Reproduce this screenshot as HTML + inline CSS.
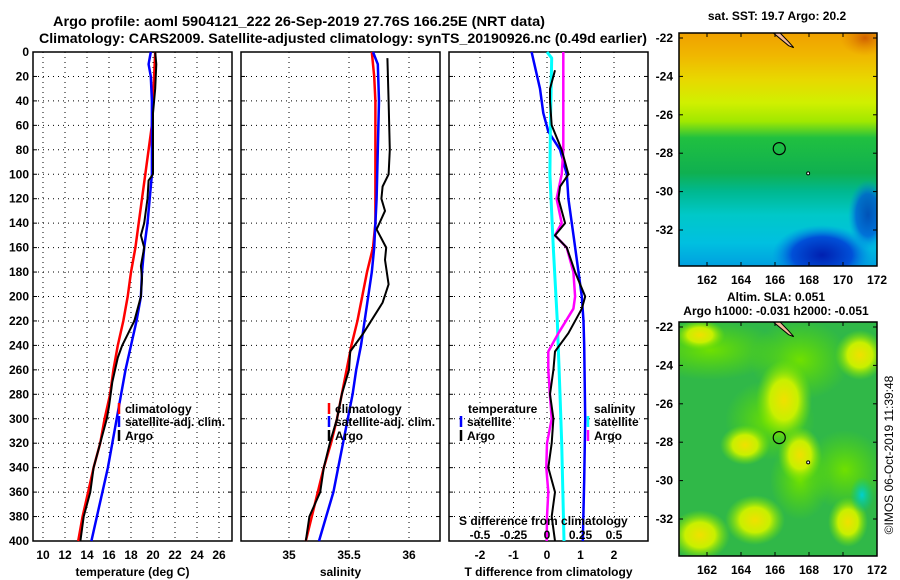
<!DOCTYPE html>
<html><head><meta charset="utf-8"><style>
html,body{margin:0;padding:0;background:#fff;}
svg{display:block;font-family:"Liberation Sans",sans-serif;font-weight:bold;}
</style></head><body>
<svg id="c" width="900" height="580" xmlns="http://www.w3.org/2000/svg">
<text x="53" y="26" font-size="14" textLength="492" lengthAdjust="spacingAndGlyphs">Argo profile: aoml 5904121_222 26-Sep-2019 27.76S 166.25E (NRT data)</text>
<text x="39" y="43" font-size="14" textLength="608" lengthAdjust="spacingAndGlyphs">Climatology: CARS2009. Satellite-adjusted climatology: synTS_20190926.nc (0.49d earlier)</text>
<g id="maps"></g>
<g id="panels"></g>
<text transform="translate(893,455) rotate(-90)" font-size="12" font-weight="normal" text-anchor="middle">©IMOS 06-Oct-2019 11:39:48</text>
</svg>
<script>
// ---- data ----
const depthTicks=[0,20,40,60,80,100,120,140,160,180,200,220,240,260,280,300,320,340,360,380,400];
const tTicks=[10,12,14,16,18,20,22,24,26];
const sTicks=[35,35.5,36];
const sTickLabels=["35","35.5","36"];
const dTicks=[-2,-1,0,1,2];
const dsTicks=[-0.5,-0.25,0,0.25,0.5];
const dsTickLabels=["-0.5","-0.25","0","0.25","0.5"];

const tClimD=[0,20,40,60,80,100,120,140,160,180,200,220,240,260,280,300,320,340,360,380,400];
const tClim=[20.2,20.1,20.0,19.9,19.6,19.3,19.0,18.7,18.4,18.0,17.7,17.3,16.8,16.4,16.1,15.6,15.2,14.6,14.1,13.6,13.2];
const tSatD=[0,10,20,40,80,100,120,140,160,180,200,220,240,260,280,300,320,340,360,380,400];
const tSat=[19.8,19.6,19.8,19.9,19.9,19.9,19.7,19.5,19.2,19.0,18.9,18.5,18.0,17.5,17.1,16.7,16.3,15.9,15.4,14.9,14.4];
const tArgoD=[0,10,30,50,100,105,120,140,150,160,175,185,200,220,240,250,270,290,300,320,340,360,380,400];
const tArgo=[20.2,20.3,20.2,20.0,20.0,19.6,19.5,19.2,18.9,19.2,18.9,19.0,18.9,18.3,17.2,16.8,16.3,16.0,15.8,15.2,14.6,14.3,13.7,13.4];

const sClimD=[0,20,40,140,160,180,200,220,240,260,280,300,320,340,360,380,400];
const sClim=[35.69,35.71,35.72,35.72,35.70,35.65,35.61,35.57,35.52,35.48,35.44,35.40,35.35,35.29,35.24,35.19,35.14];
const sSatD=[0,10,40,80,120,160,180,200,220,240,260,280,300,320,340,360,380,400];
const sSat=[35.70,35.74,35.75,35.74,35.73,35.71,35.69,35.66,35.63,35.60,35.56,35.53,35.49,35.45,35.41,35.37,35.31,35.25];
const sArgoD=[5,40,80,100,110,120,130,145,160,170,190,205,230,245,260,280,300,320,340,360,380,400];
const sArgo=[35.82,35.83,35.84,35.83,35.78,35.77,35.80,35.73,35.81,35.80,35.83,35.78,35.62,35.51,35.50,35.44,35.40,35.34,35.29,35.26,35.17,35.14];

const dtSatD=[0,30,50,65,80,100,120,150,180,200,220,240,300,350,400];
const dtSat=[-0.46,-0.21,-0.11,0.04,0.39,0.59,0.64,0.79,0.94,1.04,1.09,1.11,1.14,1.11,1.07];
const dtArgoD=[15,30,40,60,80,100,110,120,140,150,160,180,200,210,230,245,260,280,300,320,340,360,380,400];
const dtArgo=[0.24,0.09,0.09,0.14,0.44,0.64,0.39,0.34,0.54,0.24,0.59,0.84,1.14,1.04,0.64,0.24,0.19,0.09,0.19,0.14,0.04,0.24,0.14,0.24];
const dsSatD=[0,5,60,100,160,220,280,320,400];
const dsSat=[0.0,0.035,0.025,0.022,0.047,0.077,0.097,0.11,0.127];
const dsArgoD=[0,80,100,120,140,150,160,180,200,210,230,245,260,280,300,320,340,360,380,400];
const dsArgo=[0.122,0.122,0.11,0.072,0.11,0.06,0.147,0.197,0.21,0.197,0.085,0.01,0.01,0.022,0.035,0.0,-0.005,0.01,0.0,-0.002];

const lonTicks=[162,164,166,168,170,172];
const latTicks=[-22,-24,-26,-28,-30,-32];

// ---- helpers ----
const NS="http://www.w3.org/2000/svg";
function mk(tag,attrs,parent){const e=document.createElementNS(NS,tag);for(const k in attrs)e.setAttribute(k,attrs[k]);parent.appendChild(e);return e;}
const panels=document.getElementById('panels');
const Y0=52,Y1=541;
const yD=d=>Y0+(d/400)*(Y1-Y0);

function panel(name,x0,x1,xs,ticks,labels,title){
  const g=mk('g',{},panels);
  
  
  depthTicks.forEach((d,i)=>{if(i>0&&i<depthTicks.length-1){const l=mk('line',{x1:x0,x2:x1,y1:yD(d),y2:yD(d),stroke:'#000','stroke-width':1,'stroke-dasharray':'1,4'},g);}
    const t1=mk('line',{x1:x0,x2:x0+4,y1:yD(d),y2:yD(d),stroke:'#000'},g);
    const t2=mk('line',{x1:x1-4,x2:x1,y1:yD(d),y2:yD(d),stroke:'#000'},g);});
  ticks.forEach((v,i)=>{const x=xs(v);
    const l=mk('line',{x1:x,x2:x,y1:Y0,y2:Y1,stroke:'#000','stroke-dasharray':'1,4'},g);
    const t=mk('text',{x:x,y:559,'font-size':12,'text-anchor':'middle'},g);t.textContent=labels[i];});
  const r=mk('rect',{x:x0,y:Y0,width:x1-x0,height:Y1-Y0,fill:'none',stroke:'#000','stroke-width':1.5},g);
  
  const tt=mk('text',{x:(x0+x1)/2,y:576,'font-size':12,'text-anchor':'middle'},g);tt.textContent=title;
  
  return g;
}
function series(g,name,xs,vals,ds,color,w){
  const pts=vals.map((v,i)=>xs(v).toFixed(1)+','+yD(ds[i]).toFixed(1)).join(' ');
  const p=mk('polyline',{points:pts,fill:'none',stroke:color,'stroke-width':w,'stroke-linejoin':'round'},g);
  
}
function legend(g,x,y,color,label,name){
  const m=mk('line',{x1:x,x2:x,y1:y-10,y2:y+1,stroke:color,'stroke-width':2.5},g);
  
  if(label){const t=mk('text',{x:x+6,y:y,'font-size':12},g);t.textContent=label;}
}

depthTicks.forEach(d=>{const t=mk('text',{x:29,y:yD(d)+4,'font-size':12,'text-anchor':'end'},panels);t.textContent=d;
  });

// panel 1: temperature
const xT=v=>43+(v-10)*11;
const g1=panel('temperature-panel',33,232,xT,tTicks,tTicks.map(String),'temperature (deg C)');
series(g1,'temp-climatology-line',xT,tClim,tClimD,'#f00',2.5);
series(g1,'temp-satellite-adj-line',xT,tSat,tSatD,'#00f',2.5);
series(g1,'temp-argo-line',xT,tArgo,tArgoD,'#000',2);
legend(g1,119,413,'#f00','climatology','legend-climatology');
legend(g1,119,426,'#00f','satellite-adj. clim.','legend-satellite-adj');
legend(g1,119,440,'#000','Argo','legend-argo');

// panel 2: salinity
const xS=v=>289+(v-35)*120;
const g2=panel('salinity-panel',241,440,xS,sTicks,sTickLabels,'salinity');
series(g2,'sal-climatology-line',xS,sClim,sClimD,'#f00',2.5);
series(g2,'sal-satellite-adj-line',xS,sSat,sSatD,'#00f',2.5);
series(g2,'sal-argo-line',xS,sArgo,sArgoD,'#000',2);
legend(g2,329,413,'#f00','climatology','legend-climatology');
legend(g2,329,426,'#00f','satellite-adj. clim.','legend-satellite-adj');
legend(g2,329,440,'#000','Argo','legend-argo');

// panel 3: differences
const xDT=v=>547+v*33.5;
const xDS=v=>547+v*134;
const g3=panel('difference-panel',449,648,xDT,dTicks,dTicks.map(String),'T difference from climatology');
series(g3,'dt-satellite-line',xDT,dtSat,dtSatD,'#00f',2.5);
series(g3,'ds-satellite-line',xDS,dsSat,dsSatD,'#0ff',3);
series(g3,'ds-argo-line',xDS,dsArgo,dsArgoD,'#f0f',2.5);
series(g3,'dt-argo-line',xDT,dtArgo,dtArgoD,'#000',2);
{const t=mk('text',{x:468,y:413,'font-size':12},g3);t.textContent='temperature';
 const t2=mk('text',{x:594,y:413,'font-size':12},g3);t2.textContent='salinity';}
legend(g3,461,426,'#00f','satellite','legend-t-satellite');
legend(g3,461,440,'#000','Argo','legend-t-argo');
legend(g3,588,426,'#0ff','satellite','legend-s-satellite');
legend(g3,588,440,'#f0f','Argo','legend-s-argo');
{const t=mk('text',{x:459,y:525,'font-size':12},g3);t.textContent='S difference from climatology';}
dsTicks.forEach((v,i)=>{const t=mk('text',{x:xDS(v),y:539,'font-size':12,'text-anchor':'middle'},g3);t.textContent=dsTickLabels[i];
  });

// ---- maps ----
const maps=document.getElementById('maps');
const lonX=l=>877-(172-l)*17;
let clipN=0;
function map(name,top,bot,latTop,bg,title1){
  const g=mk('g',{},maps);
  
  const latY=la=>latTop+(-22-la)*19.2;
  const id='clip'+(clipN++);
  const d=mk('defs',{},g);
  const cp=mk('clipPath',{id:id},d);
  mk('rect',{x:679,y:top,width:198,height:bot-top},cp);
  const inner=mk('g',{'clip-path':`url(#${id})`},g);
  
  bg(inner,top,bot,d);
  const isl=mk('path',{d:`M${lonX(165.9)},${top} L${lonX(166.8)},${latY(-22.4)} L${lonX(167.1)},${latY(-22.5)} L${lonX(166.8)},${latY(-22.2)} L${lonX(166.3)},${top} Z`,fill:'#f4b898',stroke:'#000','stroke-width':1},inner);
  
  const sm=mk('circle',{cx:lonX(167.95),cy:latY(-29.05),r:1.5,fill:'#fff',stroke:'#000','stroke-width':1},g);
  
  const fr=mk('rect',{x:679,y:top,width:198,height:bot-top,fill:'none',stroke:'#000','stroke-width':1.5},g);
  
  const ci=mk('circle',{cx:lonX(166.25),cy:latY(-27.76),r:6,fill:'none',stroke:'#000','stroke-width':1.2},g);
  
  lonTicks.forEach(l=>{const x=lonX(l);
    mk('line',{x1:x,x2:x,y1:top,y2:top+4,stroke:'#000'},g);mk('line',{x1:x,x2:x,y1:bot-4,y2:bot,stroke:'#000'},g);
    const t=mk('text',{x:x,y:bot+18,'font-size':12,'text-anchor':'middle'},g);t.textContent=l;
    });
  latTicks.forEach(la=>{const y=latY(la);
    mk('line',{x1:679,x2:683,y1:y,y2:y,stroke:'#000'},g);mk('line',{x1:873,x2:877,y1:y,y2:y,stroke:'#000'},g);
    const t=mk('text',{x:673,y:y+4,'font-size':12,'text-anchor':'end'},g);t.textContent=la;
    });
  title1(g);
}
function sstBg(g,top,bot,d){
  const lg=mk('linearGradient',{id:'sstg',x1:0,y1:0,x2:0,y2:1},d);
  [['0','#f0a000'],['0.1','#f0b800'],['0.2','#e8d800'],['0.3','#d0f000'],['0.38','#a0e800'],['0.45','#20c040'],['0.6','#10b050'],['0.68','#00b890'],['0.78','#00c8c8'],['0.9','#00c0e0'],['1','#00a0e0']].forEach(s=>mk('stop',{offset:s[0],'stop-color':s[1]},lg));
  const r=mk('rect',{x:679,y:top,width:198,height:bot-top,fill:'url(#sstg)'},g);
  
  const rg=mk('radialGradient',{id:'sstb'},d);
  [['0','#0020b0'],['0.6','#0050d8'],['1','rgba(0,140,230,0)']].forEach(s=>mk('stop',{offset:s[0],'stop-color':s[1]},rg));
  mk('ellipse',{cx:822,cy:255,rx:50,ry:30,fill:'url(#sstb)'},g);
  mk('ellipse',{cx:868,cy:215,rx:20,ry:35,fill:'url(#sstb)','opacity':0.7},g);
  const rg2=mk('radialGradient',{id:'ssto'},d);
  [['0','#d06000'],['1','rgba(230,140,0,0)']].forEach(s=>mk('stop',{offset:s[0],'stop-color':s[1]},rg2));
  mk('ellipse',{cx:865,cy:38,rx:25,ry:18,fill:'url(#ssto)'},g);
}
function slaBg(g,top,bot,d){
  const r=mk('rect',{x:679,y:top,width:198,height:bot-top,fill:'#30b848'},g);
  
  const ry=mk('radialGradient',{id:'slay'},d);
  [['0','#f0e000'],['0.5','#c8f000'],['1','rgba(120,230,0,0)']].forEach(s=>mk('stop',{offset:s[0],'stop-color':s[1]},ry));
  const rgn=mk('radialGradient',{id:'slag'},d);
  [['0','#70e000'],['1','rgba(90,220,0,0)']].forEach(s=>mk('stop',{offset:s[0],'stop-color':s[1]},rgn));
  const rc=mk('radialGradient',{id:'slac'},d);
  [['0','#00d0d0'],['1','rgba(0,200,150,0)']].forEach(s=>mk('stop',{offset:s[0],'stop-color':s[1]},rc));
  [[710,350,70,30],[800,360,50,40],[770,420,45,40],[845,470,40,40],[800,480,30,40]].forEach(e=>mk('ellipse',{cx:e[0],cy:e[1],rx:e[2],ry:e[3],fill:'url(#slag)'},g));
  [[784,400,28,40],[860,355,25,25],[700,335,25,15],[755,520,30,25],[700,535,30,25],[848,522,20,25],[745,445,25,20],[800,455,22,28]].forEach(e=>mk('ellipse',{cx:e[0],cy:e[1],rx:e[2],ry:e[3],fill:'url(#slay)'},g));
  mk('ellipse',{cx:862,cy:495,rx:12,ry:18,fill:'url(#slac)'},g);
}
map('sst-map',33,266,38,sstBg,g=>{const t=mk('text',{x:777,y:20,'font-size':12,'text-anchor':'middle'},g);t.textContent='sat. SST: 19.7 Argo: 20.2';});
map('sla-map',322,556,327,slaBg,g=>{
  const t=mk('text',{x:776,y:301,'font-size':12,'text-anchor':'middle'},g);t.textContent='Altim. SLA: 0.051';
  const t2=mk('text',{x:776,y:315,'font-size':12,'text-anchor':'middle'},g);t2.textContent='Argo h1000: -0.031 h2000: -0.051';});
</script>
</body></html>
